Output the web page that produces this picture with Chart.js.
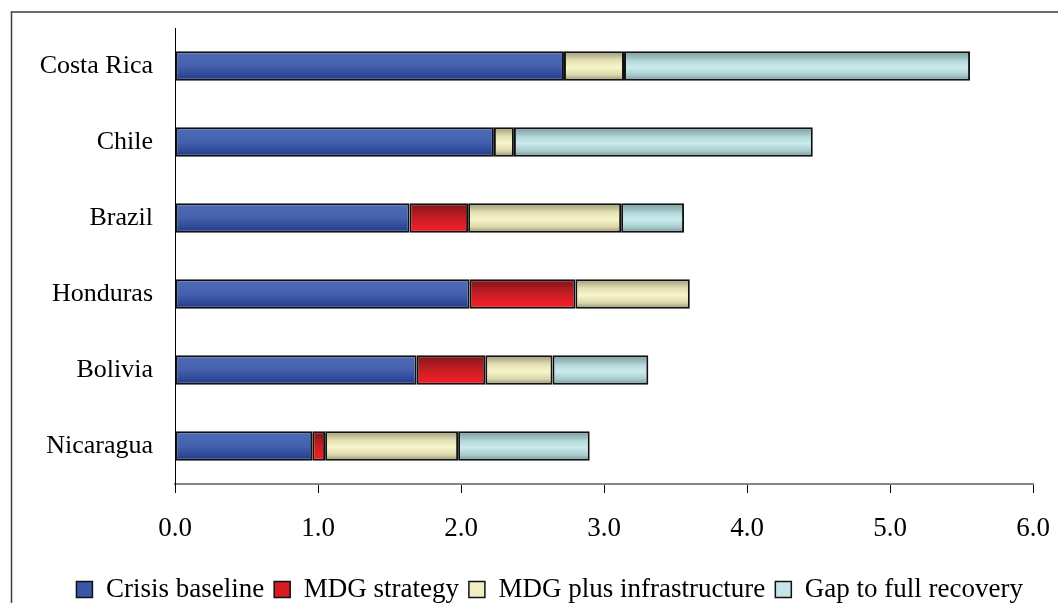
<!DOCTYPE html>
<html>
<head>
<meta charset="utf-8">
<script src="https://cdn.jsdelivr.net/npm/chart.js@4/dist/chart.umd.min.js"></script>
<style>
  html, body { margin: 0; padding: 0; background: #fff; overflow: hidden; }
  canvas { display: block; }
</style>
</head>
<body>
<canvas id="chart" width="1058" height="603"></canvas>
<script>
// Countries, top to bottom
const countries = ['Costa Rica', 'Chile', 'Brazil', 'Honduras', 'Bolivia', 'Nicaragua'];

// Stacked components for each country
const crisisBaseline    = [2.72, 2.23, 1.64, 2.06, 1.69, 0.96];
const mdgStrategy       = [0.00, 0.00, 0.41, 0.74, 0.48, 0.09];
const mdgInfrastructure = [0.42, 0.14, 1.07, 0.80, 0.47, 0.93];
const gapToRecovery     = [2.42, 2.09, 0.44, 0.00, 0.67, 0.92];

const seriesNames = ['Crisis baseline', 'MDG strategy', 'MDG plus infrastructure', 'Gap to full recovery'];

// Horizontal axis ticks
const xTicks = [0, 1, 2, 3, 4, 5, 6];

const FONT = "'Liberation Serif', 'Times New Roman', serif";
const BAR_FRACTION = 0.39;

// Vertical shading for each series: [offset, colour] stops, plus a flat colour for the legend
const shades = [
  { flat: '#3a56a6', stops: [[0, '#4f6cb7'], [0.5, '#4461ad'], [1, '#21388a']] },
  { flat: '#d81a22', stops: [[0, '#7d1417'], [0.45, '#c01d23'], [0.8, '#ea1e26'], [1, '#ee1c24']] },
  { flat: '#f1eec4', stops: [[0, '#98946f'], [0.3, '#e2dfb3'], [0.55, '#f8f5c9'], [0.8, '#dad7ac'], [1, '#8c8966']] },
  { flat: '#c4e6e9', stops: [[0, '#739899'], [0.35, '#b6dadd'], [0.55, '#c9ebee'], [0.8, '#a9ccce'], [1, '#6d9192']] }
];

function shadedFill(seriesIndex) {
  return function (ctx) {
    const shade = shades[seriesIndex];
    const chart = ctx.chart;
    const y = chart.scales && chart.scales.y;
    if (ctx.type !== 'data' || !y || !chart.chartArea) return shade.flat;
    const center = y.getPixelForValue(ctx.dataIndex);
    const band = (y.height / countries.length) * BAR_FRACTION;
    const g = chart.ctx.createLinearGradient(0, center - band / 2, 0, center + band / 2);
    shade.stops.forEach(([o, c]) => g.addColorStop(o, c));
    return g;
  };
}

const seriesData = [crisisBaseline, mdgStrategy, mdgInfrastructure, gapToRecovery];

const datasets = seriesNames.map((name, i) => ({
  label: name,
  data: seriesData[i],
  backgroundColor: shadedFill(i),
  borderColor: '#111',
  borderWidth: 2,
  borderSkipped: false,
  barPercentage: BAR_FRACTION,
  categoryPercentage: 1.0
}));

// Thin frame around the figure
const framePlugin = {
  id: 'frame',
  beforeDraw(chart) {
    const c = chart.ctx;
    c.save();
    c.strokeStyle = '#3c3c3c';
    c.lineWidth = 1.5;
    c.beginPath();
    c.moveTo(11.5, chart.height + 2);
    c.lineTo(11.5, 12);
    c.lineTo(chart.width + 2, 12);
    c.stroke();
    c.restore();
  }
};

new Chart(document.getElementById('chart'), {
  type: 'bar',
  data: { labels: countries, datasets },
  plugins: [framePlugin],
  options: {
    indexAxis: 'y',
    responsive: false,
    animation: false,
    devicePixelRatio: 1,
    layout: { padding: { left: 11, right: 25, top: 28, bottom: -10 } },
    scales: {
      x: {
        stacked: true,
        min: 0,
        max: 6,
        afterBuildTicks(scale) { scale.ticks = xTicks.map(v => ({ value: v })); },
        afterFit(scale) {
          scale.height = 82;
          scale.paddingLeft = 0;
          scale.paddingRight = 0;
        },
        ticks: {
          color: '#000',
          padding: 20,
          font: { family: FONT, size: 27 },
          callback: v => Number(v).toFixed(1)
        },
        grid: { drawOnChartArea: false, drawTicks: true, tickLength: 9, color: '#000', lineWidth: 1 },
        border: { display: true, color: '#858585', width: 2 }
      },
      y: {
        stacked: true,
        afterFit(scale) {
          scale.width = 164;
          scale.paddingTop = 0;
          scale.paddingBottom = 0;
        },
        ticks: {
          color: '#000',
          padding: 22,
          font: { family: FONT, size: 26 }
        },
        grid: { display: false, drawTicks: false },
        border: { display: true, color: '#000', width: 1 }
      }
    },
    plugins: {
      legend: {
        position: 'bottom',
        align: 'end',
        labels: {
          boxWidth: 16,
          boxHeight: 16,
          padding: 10,
          color: '#000',
          font: { family: FONT, size: 27 },
          generateLabels(chart) {
            const items = Chart.defaults.plugins.legend.labels.generateLabels(chart);
            items.forEach(item => {
              item.fillStyle = shades[item.datasetIndex].flat;
              item.strokeStyle = '#111';
              item.lineWidth = 1.5;
            });
            return items;
          }
        }
      },
      tooltip: { enabled: false }
    }
  }
});
</script>
</body>
</html>
